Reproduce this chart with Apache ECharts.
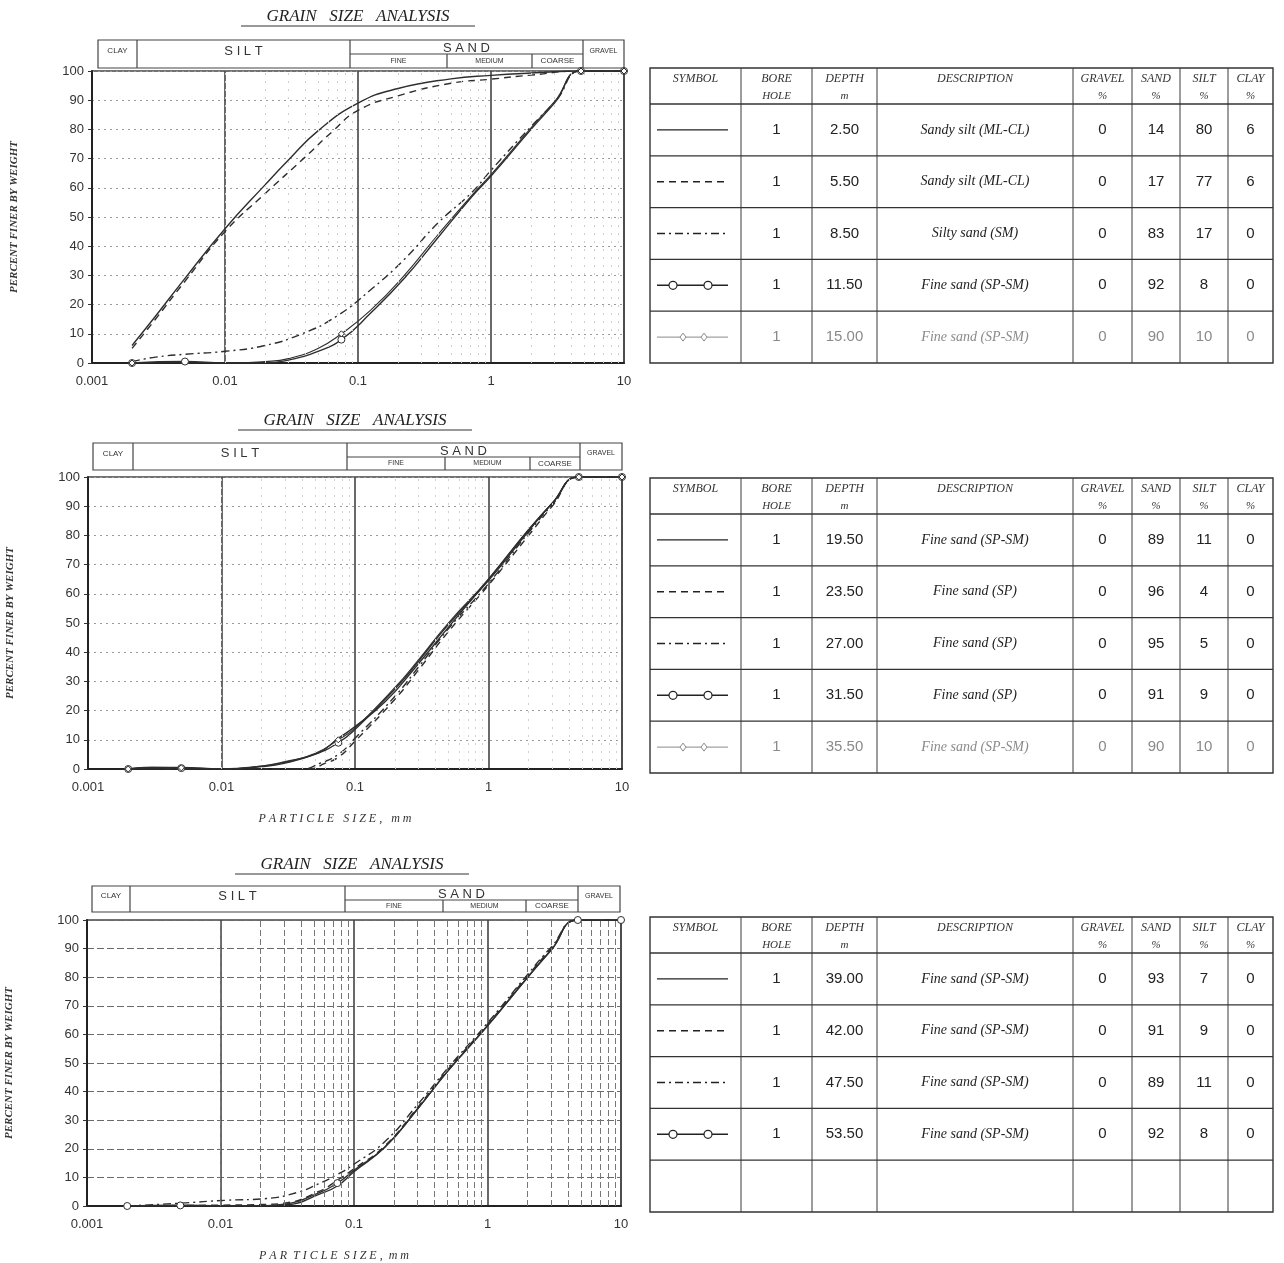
<!DOCTYPE html>
<html>
<head>
<meta charset="utf-8">
<script src="https://cdn.jsdelivr.net/npm/echarts@6/dist/echarts.min.js"></script>
<style>
	html, body { margin: 0; padding: 0; background: #fff; }
	#main { width: 1284px; height: 1263px; }
</style>
</head>
<body>
<div id="main"></div>
<script>
	const xTickLabels = ['0.001', '0.01', '0.1', '1', '10'];
	const minorMultipliers = [2, 3, 4, 5, 6, 7, 8, 9];
	const decadeStarts = [0.001, 0.01, 0.1, 1];

	// bore hole 1, sheet 1  [particle size mm, % finer]
	const s250 = [[0.002, 6], [0.003, 16], [0.005, 29], [0.01, 46], [0.02, 61], [0.03, 69.5], [0.05, 79.5], [0.1, 89], [0.2, 94], [0.5, 97.3], [1, 98.5], [2, 99.3], [4.75, 100], [10, 100]];
	const s550 = [[0.002, 5], [0.003, 15], [0.005, 28], [0.01, 45], [0.02, 58], [0.04, 70.5], [0.065, 79.5], [0.1, 86.5], [0.2, 91.5], [0.5, 95.8], [1, 97.2], [2, 98.6], [4.75, 100], [10, 100]];
	const s850 = [[0.002, 0.5], [0.003, 2], [0.005, 3], [0.01, 4], [0.02, 6], [0.038, 10], [0.069, 16], [0.124, 25], [0.223, 35.5], [0.4, 48], [0.72, 58.5], [1, 66], [2, 81], [3.1, 90], [4.75, 100], [10, 100]];
	const s1150 = [[0.002, 0], [0.005, 0.5], [0.01, 0], [0.02, 0], [0.03, 1], [0.05, 4], [0.075, 8], [0.124, 17], [0.223, 29], [0.4, 43], [0.72, 57], [1, 64], [2, 80], [3, 89], [4.75, 100], [10, 100]];
	const s1500 = [[0.002, 0], [0.01, 0], [0.02, 0.5], [0.03, 1.5], [0.05, 5], [0.075, 10], [0.124, 18], [0.223, 30], [0.4, 44], [0.72, 57.5], [1, 64.5], [2, 80.5], [3, 89.5], [4.75, 100], [10, 100]];

	// sheet 2
	const s1950 = [[0.002, 0], [0.003, 0.5], [0.005, 0.5], [0.01, 0], [0.02, 1], [0.03, 2.5], [0.053, 5.5], [0.075, 10.5], [0.1, 14.5], [0.168, 23], [0.28, 34.5], [0.5, 48.5], [1, 65], [2, 82], [3, 91], [4.75, 100], [10, 100]];
	const s2350 = [[0.002, 0], [0.01, 0], [0.045, 0], [0.06, 2], [0.075, 4], [0.1, 9.5], [0.2, 24], [0.3, 34], [0.5, 47], [1, 63], [2, 80], [3, 90], [4.75, 100], [10, 100]];
	const s2700 = [[0.002, 0], [0.01, 0], [0.04, 0], [0.055, 2], [0.075, 5], [0.1, 10.5], [0.2, 25], [0.3, 35], [0.5, 48], [1, 63.5], [2, 81], [3, 90.5], [4.75, 100], [10, 100]];
	const s3150 = [[0.002, 0], [0.003, 0.5], [0.005, 0.3], [0.01, 0], [0.02, 0.8], [0.03, 2], [0.05, 5], [0.075, 9], [0.1, 13.5], [0.2, 27.5], [0.3, 37], [0.5, 49.5], [1, 64.5], [2, 81.5], [3, 91], [4.75, 100], [10, 100]];
	const s3550 = [[0.002, 0], [0.005, 0.4], [0.01, 0], [0.02, 1], [0.03, 2.3], [0.05, 5.3], [0.075, 10], [0.1, 14], [0.2, 28], [0.3, 37.5], [0.5, 50], [1, 65], [2, 82], [3, 91], [4.75, 100], [10, 100]];

	// sheet 3
	const s3900 = [[0.002, 0], [0.005, 0.3], [0.01, 0], [0.02, 0], [0.033, 0.5], [0.054, 4], [0.075, 7], [0.1, 12], [0.17, 20.5], [0.3, 34], [0.5, 47], [1, 63], [2, 80], [3, 89.5], [4.75, 100], [10, 100]];
	const s4200 = [[0.002, 0], [0.01, 0.3], [0.02, 0.5], [0.03, 1], [0.054, 5], [0.075, 9], [0.1, 13], [0.17, 21], [0.3, 34.5], [0.5, 47.5], [1, 63.5], [2, 80.5], [3, 90], [4.75, 100], [10, 100]];
	const s4750 = [[0.002, 0], [0.005, 1], [0.011, 2], [0.022, 2.6], [0.038, 4.8], [0.054, 7.7], [0.075, 11], [0.1, 14.6], [0.17, 22.5], [0.3, 35.5], [0.5, 48], [1, 64], [2, 81], [3, 90.5], [4.75, 100], [10, 100]];
	const s5350 = [[0.002, 0], [0.005, 0.2], [0.01, 0], [0.02, 0], [0.03, 0.6], [0.054, 4.5], [0.075, 8], [0.1, 12.5], [0.17, 20.5], [0.3, 34], [0.5, 47], [1, 63], [2, 80], [3, 89.5], [4.75, 100], [10, 100]];

	const markerSieves = [0.002, 0.005, 0.075, 4.75, 10];

	// summary tables
	const boreHoles1 = ['1', '1', '1', '1', '1'];
	const depths1 = ['2.50', '5.50', '8.50', '11.50', '15.00'];
	const descriptions1 = ['Sandy silt (ML-CL)', 'Sandy silt (ML-CL)', 'Silty sand (SM)', 'Fine sand (SP-SM)', 'Fine sand (SP-SM)'];
	const gravel1 = [0, 0, 0, 0, 0];
	const sand1 = [14, 17, 83, 92, 90];
	const silt1 = [80, 77, 17, 8, 10];
	const clay1 = [6, 6, 0, 0, 0];

	const boreHoles2 = ['1', '1', '1', '1', '1'];
	const depths2 = ['19.50', '23.50', '27.00', '31.50', '35.50'];
	const descriptions2 = ['Fine sand (SP-SM)', 'Fine sand (SP)', 'Fine sand (SP)', 'Fine sand (SP)', 'Fine sand (SP-SM)'];
	const gravel2 = [0, 0, 0, 0, 0];
	const sand2 = [89, 96, 95, 91, 90];
	const silt2 = [11, 4, 5, 9, 10];
	const clay2 = [0, 0, 0, 0, 0];

	const boreHoles3 = ['1', '1', '1', '1'];
	const depths3 = ['39.00', '42.00', '47.50', '53.50'];
	const descriptions3 = ['Fine sand (SP-SM)', 'Fine sand (SP-SM)', 'Fine sand (SP-SM)', 'Fine sand (SP-SM)'];
	const gravel3 = [0, 0, 0, 0];
	const sand3 = [93, 91, 89, 92];
	const silt3 = [7, 9, 11, 8];
	const clay3 = [0, 0, 0, 0];

	const tableHeads = [['SYMBOL'], ['BORE', 'HOLE'], ['DEPTH', 'm'], ['DESCRIPTION'], ['GRAVEL', '%'], ['SAND', '%'], ['SILT', '%'], ['CLAY', '%']];

	// ---------- layout / styles ----------
	const ink = '#2e2e2e';
	const lineKinds = ['solid', 'dashed', 'dashdot', 'circle', 'diamond'];
	const dashOf = { solid: null, dashed: [7, 5], dashdot: [8, 4, 2, 4], circle: null, diamond: null };

	const sheets = [
		{ grid: { left: 92, top: 71, width: 532, height: 292 }, title: [358, 17], band: { x: [98, 137, 350, 583, 624], fm: 447, mc: 532, y0: 40, y1: 68, ym: 54 },
			curves: [s250, s550, s850, s1150, s1500], xName: '', tableTop: 68, rows: 5,
			cols: [boreHoles1, depths1, descriptions1, gravel1, sand1, silt1, clay1], faded: true, dense: false },
		{ grid: { left: 88, top: 477, width: 534, height: 292 }, title: [355, 421], band: { x: [93, 133, 347, 580, 622], fm: 445, mc: 530, y0: 443, y1: 470, ym: 457 },
			curves: [s1950, s2350, s2700, s3150, s3550], xName: 'P A R T I C L E   S I Z E ,   m m', tableTop: 478, rows: 5,
			cols: [boreHoles2, depths2, descriptions2, gravel2, sand2, silt2, clay2], faded: true, dense: false },
		{ grid: { left: 87, top: 920, width: 534, height: 289 }, title: [352, 865], band: { x: [92, 130, 345, 578, 620], fm: 443, mc: 526, y0: 886, y1: 912, ym: 900 },
			curves: [s3900, s4200, s4750, s5350], xName: 'P A R  T I C L E  S I Z E ,  m m', tableTop: 917, rows: 5,
			cols: [boreHoles3, depths3, descriptions3, gravel3, sand3, silt3, clay3], faded: false, dense: true }
	];
	const colX = [650, 741, 812, 877, 1073, 1132, 1180, 1228, 1273];
	const headH = 36, rowH = 51.8;

	const minorValues = [];
	decadeStarts.forEach(d => minorMultipliers.forEach(m => minorValues.push(d * m)));

	const grids = [], xAxes = [], yAxes = [], series = [], graphic = [];

	sheets.forEach((sh, gi) => {
		grids.push(Object.assign({ show: true, borderColor: '#444', borderWidth: 1.5, backgroundColor: 'transparent' }, sh.grid));
		xAxes.push({
			type: 'log', logBase: 10, min: 0.001, max: 10, gridIndex: gi,
			axisLine: { show: true, lineStyle: { color: '#222', width: 2 } },
			axisTick: { show: false },
			axisLabel: { color: '#333', fontFamily: 'Liberation Sans', fontSize: 13, margin: 12,
				formatter: v => xTickLabels[Math.round(Math.log10(v)) + 3] },
			splitLine: { show: true, lineStyle: { color: '#444', width: 1.6 } },
			name: sh.xName, nameLocation: 'middle', nameGap: 44,
			nameTextStyle: { fontFamily: 'Liberation Serif', fontStyle: 'italic', fontSize: 12, color: '#333', padding: [0, 40, 0, 0] }
		});
		yAxes.push({
			type: 'value', min: 0, max: 100, interval: 10, gridIndex: gi,
			axisLine: { show: true, lineStyle: { color: '#222', width: 2 } },
			axisTick: { show: true, length: 4, lineStyle: { color: '#333' } },
			axisLabel: { color: '#333', fontFamily: 'Liberation Sans', fontSize: 13, margin: 8 },
			splitLine: { show: true, lineStyle: sh.dense ? { color: '#6a6a6a', type: [7, 3], width: 1 } : { color: '#9a9a9a', type: [2, 4], width: 1 } },
			name: 'PERCENT FINER BY WEIGHT', nameLocation: 'middle', nameGap: 72,
			nameTextStyle: { fontFamily: 'Liberation Serif', fontStyle: 'italic', fontWeight: 'bold', fontSize: 11, color: '#333' }
		});

		sh.curves.forEach((pts, i) => {
			const kind = lineKinds[i];
			const marked = kind === 'circle' || kind === 'diamond';
			const s = {
				type: 'line', xAxisIndex: gi, yAxisIndex: gi, data: pts, smooth: 0.5,
				symbol: kind === 'circle' ? 'circle' : 'diamond',
				symbolSize: v => (marked && markerSieves.indexOf(v[0]) >= 0) ? (kind === 'circle' ? 7 : 6) : 0,
				showSymbol: marked,
				itemStyle: { color: '#fff', borderColor: ink, borderWidth: 1 },
				lineStyle: { color: ink, width: kind === 'diamond' ? 1.1 : 1.4, type: dashOf[kind] || 'solid' },
				silent: true, animation: false, z: 3
			};
			if (i === 0) {
				s.markLine = {
					silent: true, symbol: 'none', animation: false, label: { show: false },
					lineStyle: sh.dense ? { color: '#777', type: [6, 3], width: 1 } : { color: '#cfcfcf', type: [2, 6], width: 1 },
					data: minorValues.map(v => ({ xAxis: v }))
				};
			}
			series.push(s);
		});

		// title
		graphic.push({ type: 'text', x: sh.title[0], y: sh.title[1], style: { text: 'GRAIN   SIZE   ANALYSIS', font: 'italic 17px "Liberation Serif"', fill: '#222', textAlign: 'center', textVerticalAlign: 'middle' } });
		graphic.push({ type: 'line', shape: { x1: sh.title[0] - 117, y1: sh.title[1] + 9, x2: sh.title[0] + 117, y2: sh.title[1] + 9 }, style: { stroke: '#333', lineWidth: 1 } });

		// soil classification band
		const b = sh.band, bs = { stroke: '#444', lineWidth: 1.2, fill: null };
		graphic.push({ type: 'rect', shape: { x: b.x[0], y: b.y0, width: b.x[4] - b.x[0], height: b.y1 - b.y0 }, style: bs });
		[b.x[1], b.x[2], b.x[3]].forEach(x => graphic.push({ type: 'line', shape: { x1: x, y1: b.y0, x2: x, y2: b.y1 }, style: bs }));
		graphic.push({ type: 'line', shape: { x1: b.x[2], y1: b.ym, x2: b.x[3], y2: b.ym }, style: bs });
		[b.fm, b.mc].forEach(x => graphic.push({ type: 'line', shape: { x1: x, y1: b.ym, x2: x, y2: b.y1 }, style: bs }));
		const bt = (text, x, y, size) => graphic.push({ type: 'text', x: x, y: y, style: { text: text, font: size + 'px "Liberation Sans"', fill: '#333', textAlign: 'center', textVerticalAlign: 'middle' } });
		const bmid = (b.y0 + b.y1) / 2;
		bt('CLAY', (b.x[0] + b.x[1]) / 2, bmid - 3, 8);
		bt('S I L T', (b.x[1] + b.x[2]) / 2, bmid - 3, 13);
		bt('S A N D', (b.x[2] + b.x[3]) / 2, (b.y0 + b.ym) / 2 + 1, 13);
		bt('FINE', (b.x[2] + b.fm) / 2, (b.ym + b.y1) / 2, 7);
		bt('MEDIUM', (b.fm + b.mc) / 2, (b.ym + b.y1) / 2, 7);
		bt('COARSE', (b.mc + b.x[3]) / 2, (b.ym + b.y1) / 2, 8);
		bt('GRAVEL', (b.x[3] + b.x[4]) / 2, bmid - 3, 7);

		// summary table
		const top = sh.tableTop, bottom = top + headH + rowH * sh.rows;
		const ts = { stroke: '#3a3a3a', lineWidth: 1 };
		graphic.push({ type: 'rect', shape: { x: colX[0], y: top, width: colX[8] - colX[0], height: bottom - top }, style: { stroke: '#333', lineWidth: 1.4, fill: null } });
		colX.slice(1, 8).forEach(x => graphic.push({ type: 'line', shape: { x1: x, y1: top, x2: x, y2: bottom }, style: ts }));
		for (let r = 0; r < sh.rows; r++) {
			const y = top + headH + rowH * r;
			graphic.push({ type: 'line', shape: { x1: colX[0], y1: y, x2: colX[8], y2: y }, style: { stroke: '#333', lineWidth: r === 0 ? 1.6 : 1.2 } });
		}
		tableHeads.forEach((h, c) => {
			const cx = (colX[c] + colX[c + 1]) / 2;
			h.forEach((t, k) => graphic.push({ type: 'text', x: cx, y: top + 11 + k * 17, style: { text: t, font: 'italic ' + (k ? 11 : 12) + 'px "Liberation Serif"', fill: '#333', textAlign: 'center', textVerticalAlign: 'middle' } }));
		});
		const nRows = sh.cols[0].length;
		for (let r = 0; r < nRows; r++) {
			const cy = top + headH + rowH * (r + 0.5);
			const fill = (sh.faded && r === 4) ? '#8a8a8a' : '#222';
			sh.cols.forEach((col, c) => {
				const cx = (colX[c + 1] + colX[c + 2]) / 2;
				const isDesc = c === 2;
				graphic.push({ type: 'text', x: cx, y: cy, style: { text: String(col[r]), font: isDesc ? 'italic 14px "Liberation Serif"' : '15px "Liberation Sans"', fill: fill, textAlign: 'center', textVerticalAlign: 'middle' } });
			});
			// symbol sample
			const kind = lineKinds[r];
			const ls = { stroke: fill, lineWidth: kind === 'diamond' ? 1 : 1.4 };
			if (dashOf[kind]) ls.lineDash = dashOf[kind];
			graphic.push({ type: 'line', shape: { x1: 657, y1: cy, x2: 728, y2: cy }, style: ls });
			if (kind === 'circle') {
				[673, 708].forEach(x => graphic.push({ type: 'circle', shape: { cx: x, cy: cy, r: 4 }, style: { fill: '#fff', stroke: fill, lineWidth: 1.2 } }));
			}
			if (kind === 'diamond') {
				[683, 704].forEach(x => graphic.push({ type: 'polygon', shape: { points: [[x, cy - 4], [x + 3, cy], [x, cy + 4], [x - 3, cy]] }, style: { fill: '#fff', stroke: fill, lineWidth: 1 } }));
			}
		}
	});

	const chart = echarts.init(document.getElementById('main'), null, { renderer: 'canvas' });
	chart.setOption({
		backgroundColor: '#fff',
		animation: false,
		grid: grids,
		xAxis: xAxes,
		yAxis: yAxes,
		series: series,
		graphic: { elements: graphic }
	});
	window.onresize = function () { chart.resize(); };
</script>
</body>
</html>
